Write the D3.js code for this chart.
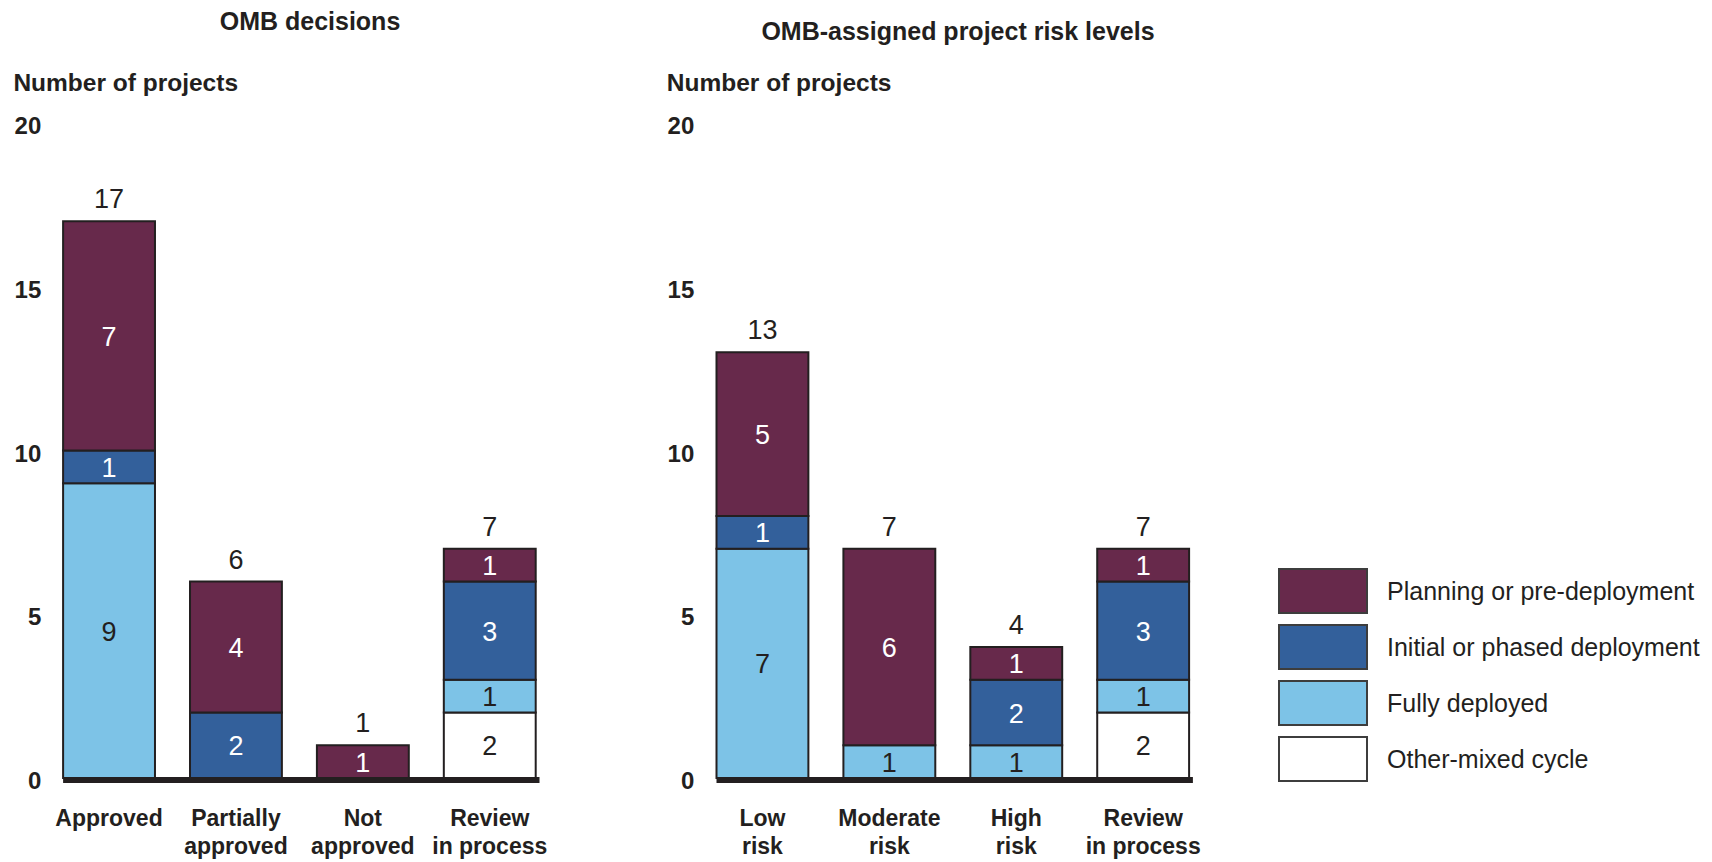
<!DOCTYPE html>
<html>
<head>
<meta charset="utf-8">
<script src="https://cdn.jsdelivr.net/npm/d3@7"></script>
<style>
  body { margin: 0; background: #fff; }
  svg { display: block; font-family: "Liberation Sans", Arial, sans-serif; }
  .bold { font-weight: bold; fill: #231f20; }
</style>
</head>
<body>
<svg id="chart" width="1712" height="862"></svg>
<script>
// series, bottom to top
const seriesKeys = ['other', 'fully', 'initial', 'planning'];
const seriesNames = {
  planning: 'Planning or pre-deployment',
  initial: 'Initial or phased deployment',
  fully: 'Fully deployed',
  other: 'Other-mixed cycle'
};
const legendOrder = ['planning', 'initial', 'fully', 'other'];
const colors = { planning: '#67294b', initial: '#33609b', fully: '#7dc3e7', other: '#ffffff' };
const labelColors = { planning: '#fff', initial: '#fff', fully: '#231f20', other: '#231f20' };

const yTicks = [0, 5, 10, 15, 20];

// left panel : OMB decisions
const decisionCats = [['Approved'], ['Partially', 'approved'], ['Not', 'approved'], ['Review', 'in process']];
const decisionOther = [0, 0, 0, 2];
const decisionFully = [9, 0, 0, 1];
const decisionInitial = [1, 2, 0, 3];
const decisionPlanning = [7, 4, 1, 1];

// right panel : risk levels
const riskCats = [['Low', 'risk'], ['Moderate', 'risk'], ['High', 'risk'], ['Review', 'in process']];
const riskOther = [0, 0, 0, 2];
const riskFully = [7, 1, 1, 1];
const riskInitial = [1, 0, 2, 3];
const riskPlanning = [5, 6, 1, 1];

const svg = d3.select('#chart');
const y = d3.scaleLinear().domain([0, 20]).range([778, 123]);

function drawPanel(opts) {
  const g = svg.append('g');
  const rows = opts.cats.map((c, i) => ({
    key: i, other: opts.other[i], fully: opts.fully[i], initial: opts.initial[i], planning: opts.planning[i]
  }));
  const x = d3.scaleBand().domain(rows.map(d => d.key))
    .range([opts.x0, opts.x0 + 472.6]).paddingInner(0.276).paddingOuter(0);

  // titles
  g.append('text').attr('class', 'bold').attr('x', opts.titleX).attr('y', opts.titleY)
    .attr('text-anchor', 'middle').style('font-size', '25px').text(opts.title);
  g.append('text').attr('class', 'bold').attr('x', opts.labelX).attr('y', 91)
    .style('font-size', '24.5px').text('Number of projects');

  // y tick labels
  const axis = g.append('g').attr('transform', `translate(${opts.axisX + 2},3)`)
    .call(d3.axisLeft(y).tickValues(yTicks).tickSize(0).tickPadding(2));
  axis.select('.domain').remove();
  axis.selectAll('text').attr('class', 'bold')
    .style('font-size', '24px').style('font-family', '"Liberation Sans", Arial, sans-serif');

  // baseline
  g.append('line').attr('x1', opts.x0).attr('x2', opts.x0 + 476.4)
    .attr('y1', y(0) + 2).attr('y2', y(0) + 2)
    .attr('stroke', '#231f20').attr('stroke-width', 6);

  const stacked = d3.stack().keys(seriesKeys)(rows);
  stacked.forEach(layer => {
    const key = layer.key;
    const segs = layer.filter(d => d[1] - d[0] > 0);
    g.selectAll(null).data(segs).enter().append('rect')
      .attr('x', d => x(d.data.key))
      .attr('width', x.bandwidth())
      .attr('y', d => y(d[1]))
      .attr('height', d => y(d[0]) - y(d[1]))
      .attr('fill', colors[key])
      .attr('stroke', '#231f20').attr('stroke-width', 2);
    g.selectAll(null).data(segs).enter().append('text')
      .attr('x', d => x(d.data.key) + x.bandwidth() / 2)
      .attr('y', d => (y(d[0]) + y(d[1])) / 2 + 10)
      .attr('text-anchor', 'middle')
      .style('font-size', '27px')
      .attr('fill', labelColors[key])
      .text(d => d[1] - d[0]);
  });

  // totals
  g.selectAll(null).data(rows).enter().append('text')
    .attr('x', d => x(d.key) + x.bandwidth() / 2)
    .attr('y', d => y(d.other + d.fully + d.initial + d.planning) - 13)
    .attr('text-anchor', 'middle').style('font-size', '27px').attr('fill', '#231f20')
    .text(d => d.other + d.fully + d.initial + d.planning);

  // category labels
  const cl = g.selectAll(null).data(rows).enter().append('text')
    .attr('class', 'bold').attr('text-anchor', 'middle').style('font-size', '23px')
    .attr('transform', d => `translate(${x(d.key) + x.bandwidth() / 2},826)`);
  cl.selectAll('tspan').data(d => opts.cats[d.key]).enter().append('tspan')
    .attr('x', 0).attr('y', (d, i) => i * 28).text(d => d);
}

drawPanel({
  title: 'OMB decisions', titleX: 310, titleY: 30, x0: 63.1, axisX: 41.3, labelX: 13.4,
  cats: decisionCats, other: decisionOther, fully: decisionFully, initial: decisionInitial, planning: decisionPlanning
});
drawPanel({
  title: 'OMB-assigned project risk levels', titleX: 958, titleY: 40, x0: 716.5, axisX: 694.3, labelX: 666.8,
  cats: riskCats, other: riskOther, fully: riskFully, initial: riskInitial, planning: riskPlanning
});

// legend
const legend = svg.append('g').attr('transform', 'translate(1279,569)');
const item = legend.selectAll('g').data(legendOrder).enter().append('g')
  .attr('transform', (d, i) => `translate(0,${i * 56})`);
item.append('rect').attr('width', 88).attr('height', 44)
  .attr('fill', d => colors[d]).attr('stroke', '#3d3d3d').attr('stroke-width', 2);
item.append('text').attr('x', 108).attr('y', 31).style('font-size', '25px')
  .attr('fill', '#231f20').text(d => seriesNames[d]);
</script>
</body>
</html>
